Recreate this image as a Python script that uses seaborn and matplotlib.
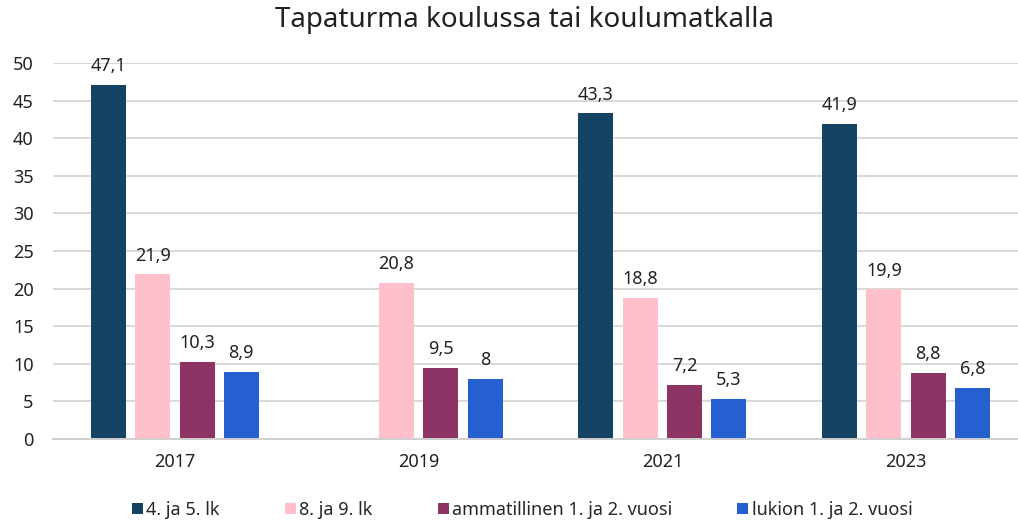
import pandas as pd
import numpy as np
import matplotlib.pyplot as plt
import seaborn as sns

years = ['2017', '2019', '2021', '2023']
groups = ['4. ja 5. lk', '8. ja 9. lk', 'ammatillinen 1. ja 2. vuosi', 'lukion 1. ja 2. vuosi']
lk45 = [47.1, None, 43.3, 41.9]
lk89 = [21.9, 20.8, 18.8, 19.9]
ammatillinen = [10.3, 9.5, 7.2, 8.8]
lukio = [8.9, 8.0, 5.3, 6.8]
colors = ['#154363', '#ffc0cb', '#8e3464', '#2660d0']

rows = []
for g, vals in zip(groups, [lk45, lk89, ammatillinen, lukio]):
    for y, v in zip(years, vals):
        if v is not None:
            rows.append({'Vuosi': y, 'Ryhmä': g, 'Arvo': v})
df = pd.DataFrame(rows)

sns.set_theme(style='white')
plt.rcParams['font.family'] = ['Noto Sans', 'DejaVu Sans']

fig = plt.figure(figsize=(10.18, 5.24), dpi=100)
ax = fig.add_axes([53 / 1018, 1 - 439 / 524, 975 / 1018, 376 / 524])

sns.barplot(data=df, x='Vuosi', y='Arvo', hue='Ryhmä', order=years, hue_order=groups,
            palette=colors, width=0.727, gap=0.21, saturation=1, linewidth=0, ax=ax)

for c in ax.containers:
    ax.bar_label(c, fmt=lambda v: f"{v:g}".replace('.', ','), padding=7, fontsize=13, color='#222222')

ax.set_ylim(0, 50)
ax.set_yticks(range(0, 51, 5))
ax.set_xlim(-0.5, 3.5)
ax.yaxis.grid(True, color='#d9d9d9', linewidth=1.4)
ax.set_axisbelow(True)
for s in ['top', 'right', 'left']:
    ax.spines[s].set_visible(False)
ax.spines['bottom'].set_color('#d0d0d0')
ax.spines['bottom'].set_linewidth(1.4)
ax.tick_params(axis='both', labelsize=13, colors='#222222', length=0)
ax.tick_params(axis='x', pad=10)
ax.tick_params(axis='y', pad=14)
ax.set_xlabel('')
ax.set_ylabel('')

fig.text(0.515, 1 - 20 / 524, 'Tapaturma koulussa tai koulumatkalla', ha='center', va='center',
         fontsize=20, color='#222222')

handles, labels = ax.get_legend_handles_labels()
ax.get_legend().remove()
fig.legend(handles, labels, loc='center', bbox_to_anchor=(0.513, 1 - 510 / 524), ncol=4,
           frameon=False, fontsize=13, handlelength=0.6, handleheight=0.6,
           handletextpad=0.2, columnspacing=3.6)

fig.savefig('out.png', dpi=100)
